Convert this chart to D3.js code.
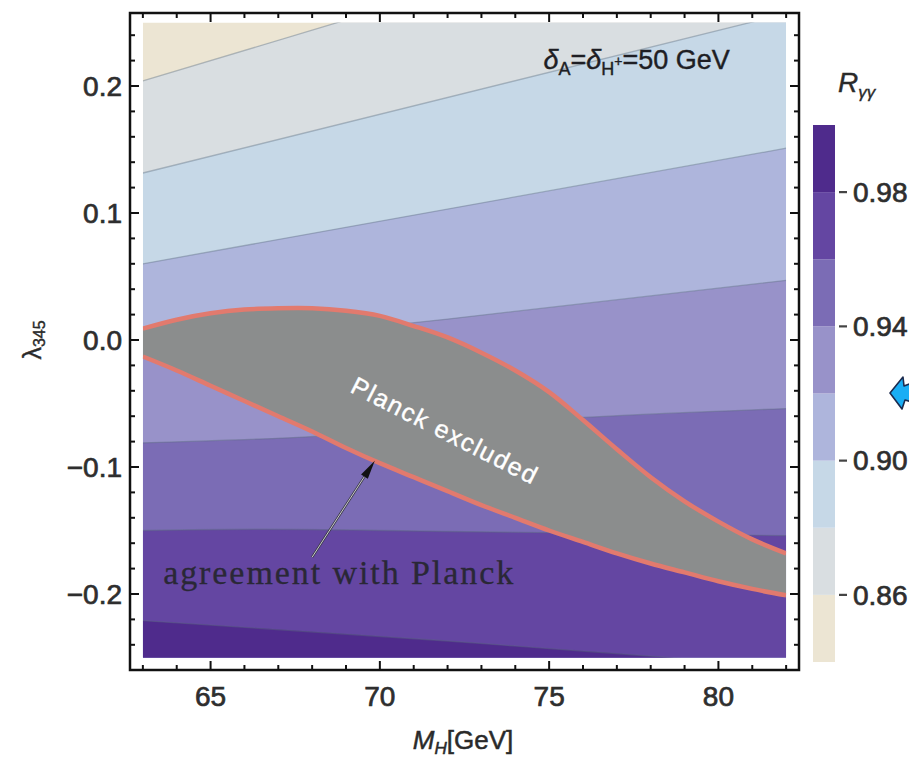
<!DOCTYPE html>
<html>
<head>
<meta charset="utf-8">
<script src="https://cdn.jsdelivr.net/npm/d3@7"></script>
<style>
  html, body { margin: 0; padding: 0; background: #fff; }
  svg { display: block; font-family: "Liberation Sans", Arial, Helvetica, sans-serif; }
</style>
</head>
<body>
<svg id="chart" width="909" height="759"></svg>
<script>
// ---- Data -------------------------------------------------------------
// R_γγ contour levels (band edges) and colour-bar range
const levels = [0.86, 0.88, 0.90, 0.92, 0.94, 0.96, 0.98];
const barRange = [0.84, 1.00];
const barTicks = [0.86, 0.90, 0.94, 0.98];

// Axis ticks
const xTicks = [65, 70, 75, 80];
const yTicks = [-0.2, -0.1, 0.0, 0.1, 0.2];

// Contour lines: [M_H (GeV), λ345]
const contour086 = [[63, 0.204], [82, 0.356]];
const contour088 = [[63, 0.1315], [82, 0.257]];
const contour090 = [[63, 0.060], [82, 0.151]];
const contour092 = [[63, -0.009], [72, 0.0165], [82, 0.047]];
const contour094 = [[63, -0.081], [67.3, -0.077], [76, -0.061], [82, -0.054]];
const contour096 = [[63, -0.150], [66.6, -0.149], [72.7, -0.151], [82, -0.154]];
const contour098 = [[63, -0.221], [72, -0.237], [75, -0.243], [78.5, -0.250], [82, -0.258]];
const contours = [contour086, contour088, contour090, contour092, contour094, contour096, contour098];

// Planck-excluded strip (upper and lower edge of λ345 vs M_H)
const planckM     = [63, 64, 65, 66, 67, 68, 69, 70, 71, 72, 73, 74, 75, 76, 77, 78, 79, 80, 81, 82];
const planckUpper = [0.009, 0.016, 0.021, 0.024, 0.025, 0.025, 0.023, 0.019, 0.011, 0.002,
                     -0.010, -0.024, -0.041, -0.063, -0.086, -0.108, -0.127, -0.143, -0.157, -0.168];
const planckLower = [-0.013, -0.024, -0.036, -0.048, -0.060, -0.072, -0.085, -0.097, -0.108, -0.119,
                     -0.130, -0.140, -0.150, -0.159, -0.168, -0.176, -0.183, -0.190, -0.196, -0.201];

// Annotation anchors in data units
const arrowTail = [68.0, -0.171];
const arrowTip = [69.85, -0.095];
const agreementAt = [63.6, -0.192];
const excludedAt = [71.9, -0.071];
const deltaAt = [74.83, 0.213];

// ---- Styling ----------------------------------------------------------
const bandColors = ["#ece5d3", "#d9dee1", "#c6d8e7", "#aeb5dc", "#9892c9", "#7b6cb5", "#6446a2", "#4f2b8c"];
const svg = d3.select("#chart");
const frame = { left: 130, right: 799, top: 13, bottom: 670 };
const dataX = [63, 82], dataY = [-0.25, 0.25];

const x = d3.scaleLinear().domain([62.62, 82.38]).range([frame.left, frame.right]);
const y = d3.scaleLinear().domain([-0.25, 0.25]).range([657.5, 22.5]);

const defs = svg.append("defs");
defs.append("clipPath").attr("id", "plotClip")
  .append("rect")
  .attr("x", x(dataX[0])).attr("y", y(dataY[1]))
  .attr("width", x(dataX[1]) - x(dataX[0]))
  .attr("height", y(dataY[0]) - y(dataY[1]));

// ---- Filled contour bands ----------------------------------------------
const plot = svg.append("g").attr("clip-path", "url(#plotClip)");
plot.append("rect")
  .attr("x", x(dataX[0])).attr("y", y(dataY[1]))
  .attr("width", x(dataX[1]) - x(dataX[0]))
  .attr("height", y(dataY[0]) - y(dataY[1]))
  .attr("fill", bandColors[0]);

const below = d3.area()
  .x(d => x(d[0])).y0(y(-0.3)).y1(d => y(d[1]))
  .curve(d3.curveMonotoneX);
const edge = d3.line()
  .x(d => x(d[0])).y(d => y(d[1]))
  .curve(d3.curveMonotoneX);

contours.forEach((pts, i) => {
  plot.append("path").attr("d", below(pts)).attr("fill", bandColors[i + 1]);
});
contours.forEach(pts => {
  plot.append("path").attr("d", edge(pts))
    .attr("fill", "none").attr("stroke", "#5a6b7c")
    .attr("stroke-opacity", 0.4).attr("stroke-width", 1.3);
});

// ---- Planck-excluded region ---------------------------------------------
const planck = planckM.map((m, i) => ({ m, hi: planckUpper[i], lo: planckLower[i] }));
const strip = d3.area()
  .x(d => x(d.m)).y0(d => y(d.lo)).y1(d => y(d.hi))
  .curve(d3.curveCatmullRom.alpha(0.5));
plot.append("path").attr("d", strip(planck)).attr("fill", "#8b8d8d");

const rim = key => d3.line().x(d => x(d.m)).y(d => y(d[key])).curve(d3.curveCatmullRom.alpha(0.5));
["hi", "lo"].forEach(k => {
  plot.append("path").attr("d", rim(k)(planck))
    .attr("fill", "none").attr("stroke", "#e27a6e").attr("stroke-width", 4.5);
});

plot.append("text")
  .attr("transform", `translate(${x(excludedAt[0])},${y(excludedAt[1])}) rotate(27)`)
  .attr("text-anchor", "middle").attr("dy", "0.35em")
  .attr("font-size", 25).attr("fill", "#ffffff")
  .attr("stroke", "#ffffff").attr("stroke-width", 0.4)
  .attr("textLength", 205).attr("lengthAdjust", "spacing")
  .text("Planck excluded");

// Arrow pointing at the lower edge
const tx = x(arrowTail[0]), ty = y(arrowTail[1]);
const hx = x(arrowTip[0]), hy = y(arrowTip[1]);
const len = Math.hypot(hx - tx, hy - ty);
const ux = (hx - tx) / len, uy = (hy - ty) / len;
const headLen = 19, headW = 4;
const bx = hx - ux * headLen, by = hy - uy * headLen;
plot.append("line")
  .attr("x1", tx).attr("y1", ty).attr("x2", bx).attr("y2", by)
  .attr("stroke", "#3a3a44").attr("stroke-width", 2.4);
plot.append("line")
  .attr("x1", tx).attr("y1", ty).attr("x2", bx).attr("y2", by)
  .attr("stroke", "#c9c9cf").attr("stroke-width", 1);
plot.append("polygon")
  .attr("points", [
    [hx, hy],
    [bx - uy * headW, by + ux * headW],
    [bx + uy * headW, by - ux * headW]
  ].map(p => p.join(",")).join(" "))
  .attr("fill", "#111");

plot.append("text")
  .attr("x", x(agreementAt[0])).attr("y", y(agreementAt[1]))
  .attr("font-family", "'Liberation Serif', 'Times New Roman', serif")
  .attr("font-size", 34).attr("fill", "#2a2836")
  .attr("stroke", "#2a2836").attr("stroke-width", 0.3)
  .attr("textLength", 350).attr("lengthAdjust", "spacing")
  .text("agreement with Planck");

// δ_A = δ_H+ = 50 GeV
const dt = plot.append("text")
  .attr("x", x(deltaAt[0])).attr("y", y(deltaAt[1]))
  .attr("font-size", 27).attr("fill", "#1e1e24")
  .attr("stroke", "#1e1e24").attr("stroke-width", 0.4);
dt.append("tspan").attr("font-style", "italic").text("δ");
dt.append("tspan").attr("font-size", 18).attr("dy", 6).text("A");
dt.append("tspan").attr("dy", -6).text("=");
dt.append("tspan").attr("font-style", "italic").text("δ");
dt.append("tspan").attr("font-size", 18).attr("dy", 6).text("H");
dt.append("tspan").attr("font-size", 14).attr("dy", -9).text("+");
dt.append("tspan").attr("dy", 3).text("=50 GeV");

// ---- Frame and ticks ------------------------------------------------------
const axes = svg.append("g");
axes.append("rect")
  .attr("x", frame.left).attr("y", frame.top)
  .attr("width", frame.right - frame.left).attr("height", frame.bottom - frame.top)
  .attr("fill", "none").attr("stroke", "#111").attr("stroke-width", 2.5);

const xMinor = d3.range(63, 83);
const yMinor = d3.range(-24, 25, 2).map(v => v / 100);
const isMajorX = v => xTicks.includes(v);
const isMajorY = v => yTicks.some(t => Math.abs(t - v) < 1e-9);

xMinor.forEach(v => {
  const L = isMajorX(v) ? 9 : 5;
  axes.append("line").attr("x1", x(v)).attr("x2", x(v))
    .attr("y1", frame.bottom).attr("y2", frame.bottom - L)
    .attr("stroke", "#111").attr("stroke-width", 2);
  axes.append("line").attr("x1", x(v)).attr("x2", x(v))
    .attr("y1", frame.top).attr("y2", frame.top + L)
    .attr("stroke", "#111").attr("stroke-width", 2);
});
yMinor.forEach(v => {
  const L = isMajorY(v) ? 9 : 5;
  axes.append("line").attr("y1", y(v)).attr("y2", y(v))
    .attr("x1", frame.left).attr("x2", frame.left + L)
    .attr("stroke", "#111").attr("stroke-width", 2);
  axes.append("line").attr("y1", y(v)).attr("y2", y(v))
    .attr("x1", frame.right).attr("x2", frame.right - L)
    .attr("stroke", "#111").attr("stroke-width", 2);
});

const fmtY = d3.format(".1f");
axes.selectAll(".ylab").data(yTicks).join("text")
  .attr("x", 122).attr("y", d => y(d)).attr("dy", "0.35em")
  .attr("text-anchor", "end").attr("font-size", 28).attr("fill", "#2e2e2e")
  .attr("stroke", "#2e2e2e").attr("stroke-width", 0.7)
  .text(d => fmtY(d));
axes.selectAll(".xlab").data(xTicks).join("text")
  .attr("x", d => x(d)).attr("y", 706)
  .attr("text-anchor", "middle").attr("font-size", 28).attr("fill", "#2e2e2e")
  .attr("stroke", "#2e2e2e").attr("stroke-width", 0.7)
  .text(d => d);

// Axis titles
const xt = axes.append("text")
  .attr("x", 463).attr("y", 749).attr("text-anchor", "middle")
  .attr("font-size", 26).attr("fill", "#2a2a2a")
  .attr("stroke", "#2a2a2a").attr("stroke-width", 0.5);
xt.append("tspan").attr("font-style", "italic").text("M");
xt.append("tspan").attr("font-size", 17).attr("dy", 5).attr("font-style", "italic").text("H");
xt.append("tspan").attr("dy", -5).text("[GeV]");

const yt = axes.append("text")
  .attr("transform", "translate(41,340) rotate(-90)")
  .attr("text-anchor", "middle").attr("font-size", 25).attr("fill", "#2a2a2a")
  .attr("stroke", "#2a2a2a").attr("stroke-width", 0.4);
yt.append("tspan").text("λ");
yt.append("tspan").attr("font-size", 16).attr("dy", 4).text("345");

// ---- Colour bar -------------------------------------------------------------
const bar = d3.scaleLinear().domain(barRange).range([662, 125]);
const barEdges = [barRange[0], ...levels, barRange[1]];
const legend = svg.append("g");
barEdges.slice(0, -1).forEach((lo, i) => {
  const hi = barEdges[i + 1];
  legend.append("rect")
    .attr("x", 813).attr("width", 22)
    .attr("y", bar(hi)).attr("height", bar(lo) - bar(hi))
    .attr("fill", bandColors[i]);
});
barTicks.forEach(v => {
  legend.append("line")
    .attr("x1", 839).attr("x2", 847).attr("y1", bar(v)).attr("y2", bar(v))
    .attr("stroke", "#444").attr("stroke-width", 2.2);
  legend.append("text")
    .attr("x", 853).attr("y", bar(v)).attr("dy", "0.35em")
    .attr("font-size", 28).attr("fill", "#2e2e2e")
    .attr("stroke", "#2e2e2e").attr("stroke-width", 0.7)
    .text(d3.format(".2f")(v));
});
const rt = legend.append("text").attr("x", 838).attr("y", 92)
  .attr("font-size", 28).attr("fill", "#2a2a2a")
  .attr("stroke", "#2a2a2a").attr("stroke-width", 0.4);
rt.append("tspan").attr("font-style", "italic").text("R");
rt.append("tspan").attr("font-size", 17).attr("dy", 6).attr("font-style", "italic").text("γγ");

// Blue pointer at the right edge
svg.append("polygon")
  .attr("points", "890,393 903,377 904,386 912,383 912,402 905,400 902,409")
  .attr("fill", "#19aef5").attr("stroke", "#1b2a4e").attr("stroke-width", 1.6)
  .attr("stroke-linejoin", "round");
</script>
</body>
</html>
